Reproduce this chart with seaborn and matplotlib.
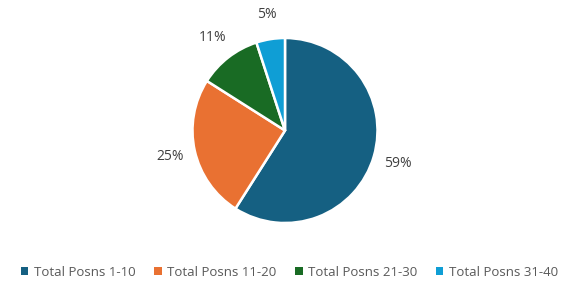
import matplotlib
matplotlib.use("Agg")
import matplotlib.pyplot as plt
from matplotlib.patches import Patch
import seaborn as sns

categories = ["Total Posns 1-10", "Total Posns 11-20", "Total Posns 21-30", "Total Posns 31-40"]
values = [59, 25, 11, 5]
colors = sns.color_palette(["#156082", "#E97132", "#196B24", "#0F9ED5"])

sns.set_theme(style="white")
plt.rcParams['font.family'] = ['Open Sans', 'DejaVu Sans']

W, H = 579, 288
fig = plt.figure(figsize=(W / 100, H / 100), dpi=100)
ax = fig.add_axes([0, 0, 1, 1])
ax.set_xlim(0, W)
ax.set_ylim(0, H)
ax.set_aspect('equal')
ax.axis('off')

wedges, texts, autotexts = ax.pie(
    values, colors=colors, startangle=90, counterclock=False,
    center=(285, H - 130.5), radius=92.5,
    autopct=lambda p: f"{p:.0f}%", pctdistance=1.27,
    wedgeprops=dict(edgecolor='white', linewidth=1.8),
    textprops=dict(fontsize=10, color='#404040'))
ax.set_xlim(0, W)
ax.set_ylim(0, H)

handles = [Patch(facecolor=c, edgecolor='none', label=l) for c, l in zip(colors, categories)]
leg = fig.legend(handles=handles, loc='center', bbox_to_anchor=(0.5, 1 - 272 / H),
                 ncol=4, frameon=False, fontsize=9.5, handlelength=0.55, handleheight=0.55,
                 handletextpad=0.4, columnspacing=1.45, labelcolor='#595959')

fig.savefig("out.png", dpi=100)
